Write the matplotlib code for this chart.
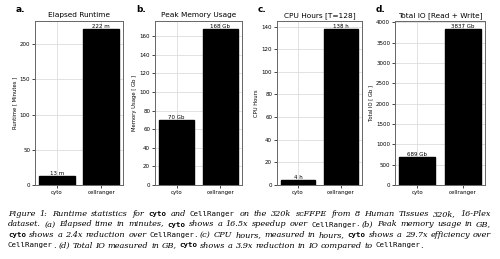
import matplotlib
matplotlib.use("Agg")
import matplotlib.pyplot as plt

tools = ["cyto", "cellranger"]
runtime_min = [13, 222]
memory_gb = [70, 168]
cpu_hours = [4, 138]
total_io_gb = [689, 3837]

panels = [
    ("a.", "Elapsed Runtime", "Runtime [ Minutes ]", runtime_min, "m"),
    ("b.", "Peak Memory Usage", "Memory Usage [ Gb ]", memory_gb, "Gb"),
    ("c.", "CPU Hours [T=128]", "CPU Hours", cpu_hours, "h"),
    ("d.", "Total IO [Read + Write]", "Total IO [ Gb ]", total_io_gb, "Gb"),
]

W, H = 500, 259
fig = plt.figure(figsize=(W / 100, H / 100), dpi=100)

# axes boxes in pixels (left, right)
boxes = [(35, 123), (155, 242), (277, 362), (395, 485)]
top, bottom = 21, 185

for (lbl, title, ylabel, vals, unit), (l, r) in zip(panels, boxes):
    ax = fig.add_axes([l / W, 1 - bottom / H, (r - l) / W, (bottom - top) / H])
    ax.set_axisbelow(True)
    ax.grid(True, color="#dddddd", linewidth=0.6)
    bars = ax.bar(tools, vals, color="black", edgecolor="black", width=0.8)
    for b, v in zip(bars, vals):
        ax.text(b.get_x() + b.get_width() / 2, v, f"{v} {unit}",
                ha="center", va="bottom", fontsize=4)
    ax.set_title(title, fontsize=5.3, pad=3)
    ax.set_ylabel(ylabel, fontsize=3.8, labelpad=2)
    ax.tick_params(labelsize=4, length=2, width=0.5, pad=1.5)
    for s in ax.spines.values():
        s.set_color("#666666")
        s.set_linewidth(0.7)
    fig.text((l - 19) / W, 1 - 10 / H, lbl, fontsize=6.5, fontweight="bold",
             va="center", ha="left")

# caption with mixed fonts, justified lines
serif = dict(family="DejaVu Serif", style="italic", fontsize=5.9)
mono = dict(family="DejaVu Sans Mono", fontsize=5.3)
monob = dict(family="DejaVu Sans Mono", fontsize=5.3, fontweight="bold")
caption = [
    [("Figure 1:  Runtime statistics for ", serif), ("cyto", monob), (" and ", serif),
     ("CellRanger", mono), (" on the 320k scFFPE from 8 Human Tissues 320k, 16-Plex", serif)],
    [("dataset. (a) Elapsed time in minutes, ", serif), ("cyto", monob),
     (" shows a 16.5x speedup over ", serif), ("CellRanger", mono),
     (". (b) Peak memory usage in GB,", serif)],
    [("cyto", monob), (" shows a 2.4x reduction over ", serif), ("CellRanger", mono),
     (". (c) CPU hours, measured in hours, ", serif), ("cyto", monob),
     (" shows a 29.7x efficiency over", serif)],
    [("CellRanger", mono), (". (d) Total IO measured in GB, ", serif), ("cyto", monob),
     (" shows a 3.9x reduction in IO compared to ", serif), ("CellRanger", mono), (".", serif)],
]
line_y = [216, 226.5, 237, 247.5]
x_left, x_right = 8, 491
renderer = fig.canvas.get_renderer()

probe = fig.text(0, 0, "a a", **serif)
probe2 = fig.text(0, 0, "aa", **serif)
space_w = probe.get_window_extent(renderer).width - probe2.get_window_extent(renderer).width
probe.remove()
probe2.remove()

for k, (segs, y) in enumerate(zip(caption, line_y)):
    tokens = []  # (text, style, space_before)
    pending = False
    for txt, st in segs:
        for i, p in enumerate(txt.split(" ")):
            if i > 0:
                pending = True
            if p:
                tokens.append((p, st, pending and bool(tokens)))
                pending = False
    arts = []
    for p, st, sp in tokens:
        t = fig.text(0, 1 - y / H, p, va="baseline", ha="left", **st)
        arts.append((t, t.get_window_extent(renderer).width, sp))
    n_gaps = sum(1 for a in arts if a[2])
    total = sum(a[1] for a in arts)
    if k < len(caption) - 1:
        gap = (x_right - x_left - total) / n_gaps
    else:
        gap = space_w
    x = x_left
    for t, w, sp in arts:
        if sp:
            x += gap
        t.set_x(x / W)
        x += w

fig.savefig("out.png", dpi=100)
